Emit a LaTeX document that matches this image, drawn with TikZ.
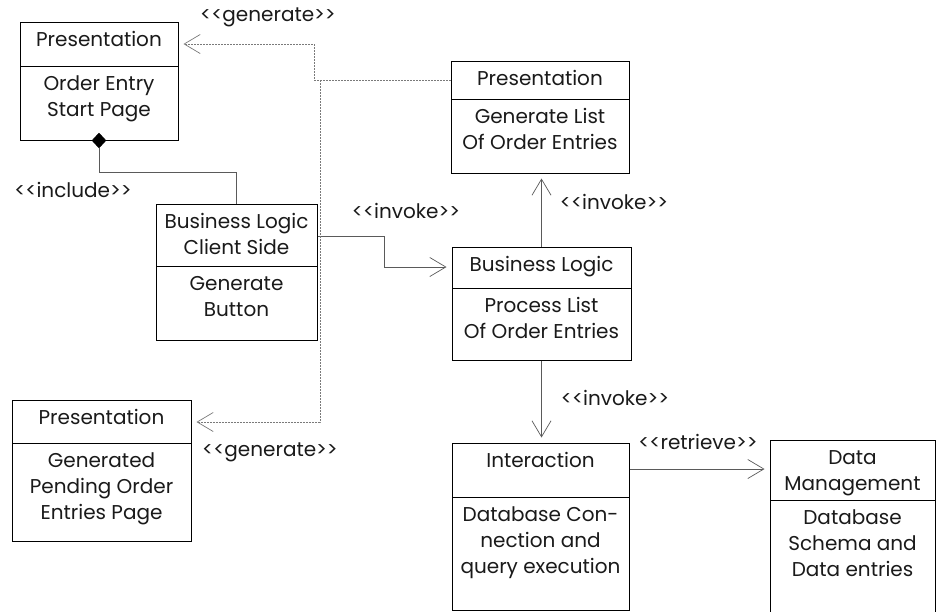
\documentclass[tikz,border=0pt]{standalone}
\usepackage{fontspec}
\newfontfamily\diagfont{Poppins}
\usetikzlibrary{arrows.meta,fit,shapes.geometric}

\definecolor{ink}{HTML}{1A1A1A}
\definecolor{wire}{HTML}{5A5A5A}
\definecolor{dots}{HTML}{7A7A7A}

\tikzset{
  classframe/.style={draw=black, line width=1pt, inner sep=0pt},
  classrule/.style={draw=black, line width=1pt},
  classtext/.style={anchor=north, align=center, inner sep=0pt, text=ink,
    font=\diagfont\fontsize{20}{26}\selectfont},
  stereo/.style={anchor=mid, inner sep=0pt, text=ink,
    font=\diagfont\fontsize{20}{26}\selectfont},
  call/.style={draw=wire, line width=0.8pt,
    -{Straight Barb[length=16pt,width=19pt,line width=0.7pt]}, shorten >=5pt},
  depend/.style={draw=dots, line width=0.8pt, dash pattern=on 1.6pt off 1.4pt},
  dependarrow/.style={depend,
    -{Straight Barb[length=16pt,width=19pt,line width=0.7pt,sep=0pt]}, shorten >=5pt},
  composite/.style={draw=wire, line width=0.8pt},
}

% strut that fixes the height of a first line at 20pt
\newcommand\firstline{\rule{0pt}{20pt}}

% #1 name, #2-#5 corners, #6 height of the rule, #7 title, #8 body
\newcommand\classbox[8]{%
  \node[classframe, fit={(#2,#3) (#4,#5)}] (#1) {};
  \draw[classrule] (#2,#6) -- (#4,#6);
  \node[classtext] (#1-title) at ({(#2+#4)/2},{#3+4.5}) {\firstline#7};
  \node[classtext] (#1-body) at ({(#2+#4)/2},{#6+4.5}) {\firstline#8};
}

\begin{document}
\begin{tikzpicture}[x=1pt, y=-1pt]
\useasboundingbox (0,0) rectangle (936,611);
\clip (0,0) rectangle (936,611);
\fill[white] (0,0) rectangle (936,611);

% classes
\classbox{startpage}{20}{22}{178}{140}{66}{Presentation}{Order Entry\\Start Page}
\classbox{client}{156}{204}{317}{340}{266}{Business Logic\\Client Side}{Generate\\Button}
\classbox{listview}{451}{61}{629}{173}{99}{Presentation}{Generate List\\Of Order Entries}
\classbox{process}{452}{247}{631}{360}{288}{Business Logic}{Process List\\Of Order Entries}
\classbox{pending}{12}{400}{191}{541}{443}{Presentation}{Generated\\Pending Order\\Entries Page}
\classbox{query}{452}{443}{629}{610}{497}{Interaction}{Database Con-\\nection and\\query execution}
\classbox{store}{770}{440}{935}{640}{500}{Data\\Management}{Database\\Schema and\\Data entries}

% composition: start page includes the client-side button
\node[diamond, fill=black, draw=black, inner sep=0pt, minimum width=14pt,
      minimum height=15pt] (whole) at (startpage.south) {};
\draw[composite] (whole.south) -- ++(0,24) -| (client.north);

% invocations
\draw[call] (client.east |- 0,236) -| (384,267) -- (process.west |- 0,267);
\draw[call] (process.north) -- (process.north |- listview.south);
\draw[call] (process.south) -- (process.south |- query.north);
\draw[call] (query.east |- 0,469) -- (store.west |- 0,469);

% generated pages
\coordinate (fork) at (320,80);
\draw[dependarrow] (listview.west |- 0,80) -| (314,44) -- (startpage.east |- 0,44);
\draw[dependarrow] (fork) |- (pending.east |- 0,422);

% stereotypes
\node[stereo] (gentop) at (268,19) {<<generate>>};
\node[stereo] (incl) at (73,195) {<<include>>};
\node[stereo] (inv1) at (406,216) {<<invoke>>};
\node[stereo] (inv2) at (614,207) {<<invoke>>};
\node[stereo] (inv3) at (615,403) {<<invoke>>};
\node[stereo] (retr) at (698,447) {<<retrieve>>};
\node[stereo] (genbot) at (270,454) {<<generate>>};
\end{tikzpicture}
\end{document}
